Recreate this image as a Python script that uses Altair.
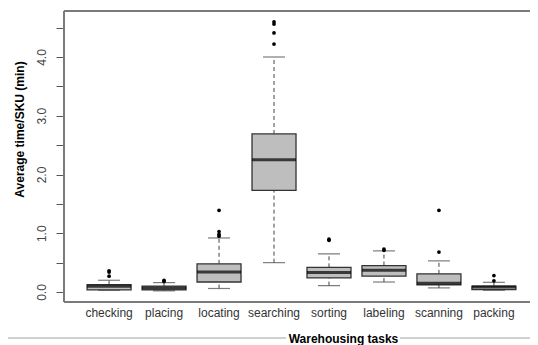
import altair as alt
import pandas as pd

tasks = ["checking", "placing", "locating", "searching", "sorting", "labeling", "scanning", "packing"]
lower = [0.03, 0.02, 0.06, 0.50, 0.11, 0.17, 0.07, 0.03]
q1 = [0.035, 0.035, 0.17, 1.73, 0.24, 0.27, 0.12, 0.04]
median = [0.10, 0.07, 0.34, 2.25, 0.33, 0.37, 0.15, 0.085]
q3 = [0.125, 0.10, 0.48, 2.69, 0.42, 0.45, 0.31, 0.10]
upper = [0.20, 0.16, 0.92, 4.00, 0.65, 0.70, 0.53, 0.165]

out_task = (["checking"] * 3 + ["placing"] * 2 + ["locating"] * 4 + ["searching"] * 4
            + ["sorting"] * 2 + ["labeling"] * 2 + ["scanning"] * 2 + ["packing"] * 2)
out_value = [0.36, 0.34, 0.27,
             0.20, 0.18,
             1.39, 1.03, 0.98, 0.95,
             4.60, 4.56, 4.41, 4.22,
             0.90, 0.88,
             0.73, 0.71,
             1.39, 0.68,
             0.28, 0.19]

y_ticks = [0.0, 0.5, 1.0, 1.5, 2.0, 2.5, 3.0, 3.5, 4.0, 4.5]

df = pd.DataFrame({"task": tasks, "lower": lower, "q1": q1, "median": median, "q3": q3, "upper": upper})
df_out = pd.DataFrame({"task": out_task, "value": out_value})

x_enc = alt.X(
    "task:N", sort=tasks,
    scale=alt.Scale(domain=tasks, paddingInner=0, paddingOuter=0.32, range=[0, 475]),
    axis=alt.Axis(title="Warehousing tasks", labelAngle=0, ticks=False, labelPadding=5,
                  labelFontSize=12, labelColor="#333", domain=False,
                  titleFontSize=12, titleFontWeight="bold", titleColor="#000",
                  titleX=279, titleY=40, titleBaseline="alphabetic", titleAlign="center"),
)

y_scale = alt.Scale(domain=[-0.17, 4.783], nice=False, zero=False)
y_axis = alt.Axis(title="Average time/SKU (min)", values=y_ticks,
                  labelExpr="datum.value % 1 === 0 ? format(datum.value, '.1f') : ''",
                  labelAngle=-90, labelAlign="center", labelBaseline="alphabetic",
                  labelPadding=11, labelFontSize=12, labelColor="#444",
                  tickSize=8, tickColor="#555", tickWidth=1, grid=False,
                  domain=False,
                  titleFontSize=12, titleFontWeight="bold", titleColor="#000",
                  titleAngle=-90, titleX=-41, titleY=118, titleBaseline="alphabetic",
                  titleAlign="center")

base = alt.Chart(df)

whisk_up = base.mark_rule(color="#444", strokeWidth=1, strokeDash=[4, 3]).encode(
    x=x_enc, y=alt.Y("q3:Q", scale=y_scale, axis=y_axis), y2="upper:Q")
whisk_lo = base.mark_rule(color="#444", strokeWidth=1, strokeDash=[4, 3]).encode(
    x=x_enc, y=alt.Y("lower:Q", scale=y_scale, axis=y_axis), y2="q1:Q")
cap_up = base.mark_tick(color="#444", thickness=1.2, size=22).encode(
    x=x_enc, y=alt.Y("upper:Q", scale=y_scale, axis=y_axis))
cap_lo = base.mark_tick(color="#444", thickness=1.2, size=22).encode(
    x=x_enc, y=alt.Y("lower:Q", scale=y_scale, axis=y_axis))
box = base.mark_bar(size=44, fill="#bebebe", stroke="#333", strokeWidth=1.3).encode(
    x=x_enc, y=alt.Y("q1:Q", scale=y_scale, axis=y_axis), y2="q3:Q")
med = base.mark_tick(color="#000", thickness=3, size=44).encode(
    x=x_enc, y=alt.Y("median:Q", scale=y_scale, axis=y_axis))
outl = alt.Chart(df_out).mark_circle(color="#000", size=14, opacity=1).encode(
    x=x_enc, y=alt.Y("value:Q", scale=y_scale, axis=y_axis))

frame_top = alt.Chart(df).mark_rule(color="#7a7a7a", strokeWidth=2).encode(
    x=alt.value(0), x2=alt.value(470), y=alt.value(0))
frame_bottom = alt.Chart(df).mark_rule(color="#7a7a7a", strokeWidth=2).encode(
    x=alt.value(0), x2=alt.value(470), y=alt.value(291))
frame_left = alt.Chart(df).mark_rule(color="#7a7a7a", strokeWidth=2).encode(
    x=alt.value(0), y=alt.value(0), y2=alt.value(291))
sep1 = alt.Chart(df).mark_rule(color="#d0d0d0", strokeWidth=1).encode(
    x=alt.value(-60), x2=alt.value(222), y=alt.value(327))
sep2 = alt.Chart(df).mark_rule(color="#d0d0d0", strokeWidth=1).encode(
    x=alt.value(336), x2=alt.value(470), y=alt.value(327))

chart = alt.layer(whisk_up, whisk_lo, cap_up, cap_lo, box, med, outl,
                  frame_top, frame_bottom, frame_left, sep1, sep2).properties(
    width=466, height=291,
    autosize=alt.AutoSizeParams(type="none"),
    padding={"left": 56, "top": 3, "right": 0, "bottom": 43},
).configure(font="Liberation Sans").configure_view(stroke=None)

chart.save("out.html", embed_options={"renderer": "svg", "actions": False})
